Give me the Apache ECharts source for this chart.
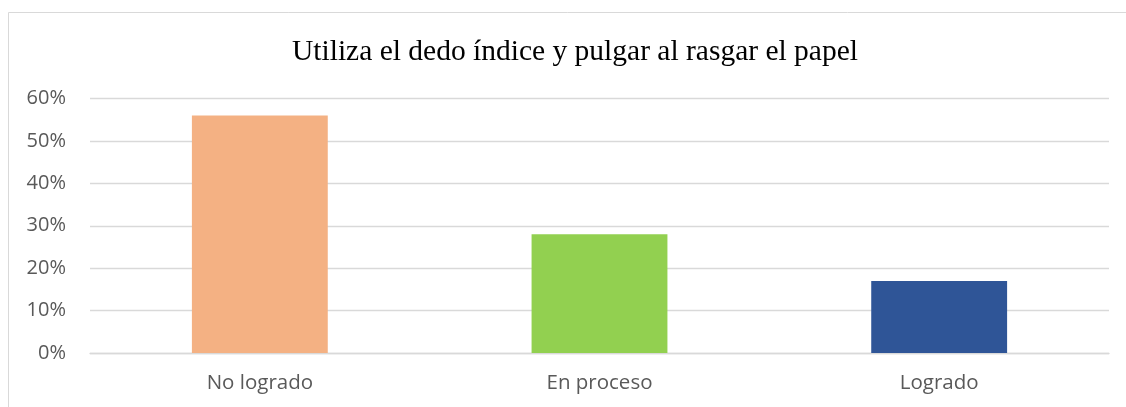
<!DOCTYPE html>
<html>
<head>
<meta charset="utf-8">
<script src="https://cdn.jsdelivr.net/npm/echarts@6/dist/echarts.min.js"></script>
<style>
  html, body { margin: 0; padding: 0; background: #fff; }
  #chart { width: 1126px; height: 407px; }
</style>
</head>
<body>
<div id="chart"></div>
<script>
var titleText = 'Utiliza el dedo índice y pulgar al rasgar el papel';
var categories = ['No logrado', 'En proceso', 'Logrado'];
var values = [56, 28, 17];
var barColors = ['#F4B183', '#92D050', '#2F5597'];
var yTicks = [0, 10, 20, 30, 40, 50, 60];

var myChart = echarts.init(document.getElementById('chart'));

var option = {
    animation: false,
    backgroundColor: '#fff',
    title: {
        text: titleText,
        left: 287,
        top: 32,
        textStyle: {
            fontFamily: '"Liberation Serif", "Times New Roman", serif',
            fontSize: 29.5,
            fontWeight: 'normal',
            color: '#000'
        }
    },
    graphic: [{
        type: 'rect',
        shape: { x: 8.5, y: 12.5, width: 1130, height: 420 },
        style: { fill: 'none', stroke: '#d9d9d9', lineWidth: 1 },
        silent: true
    }],
    grid: {
        left: 90,
        right: 17,
        top: 98.5,
        bottom: 54
    },
    xAxis: {
        type: 'category',
        data: categories,
        axisLine: { lineStyle: { color: '#d9d9d9', width: 1.3 } },
        axisTick: { show: false },
        axisLabel: {
            margin: 20,
            color: '#595959',
            fontSize: 20.5,
            fontFamily: '"Open Sans", sans-serif'
        }
    },
    yAxis: {
        type: 'value',
        min: yTicks[0],
        max: yTicks[yTicks.length - 1],
        interval: 10,
        axisLine: { show: false },
        axisTick: { show: false },
        splitLine: { lineStyle: { color: '#d9d9d9', width: 1.3 } },
        axisLabel: {
            margin: 24,
            color: '#595959',
            fontSize: 20,
            fontFamily: '"Open Sans", sans-serif',
            formatter: '{value}%'
        }
    },
    series: [{
        type: 'bar',
        barWidth: '40%',
        data: values.map(function (v, i) {
            return { value: v, itemStyle: { color: barColors[i] } };
        })
    }]
};

myChart.setOption(option);
</script>
</body>
</html>
